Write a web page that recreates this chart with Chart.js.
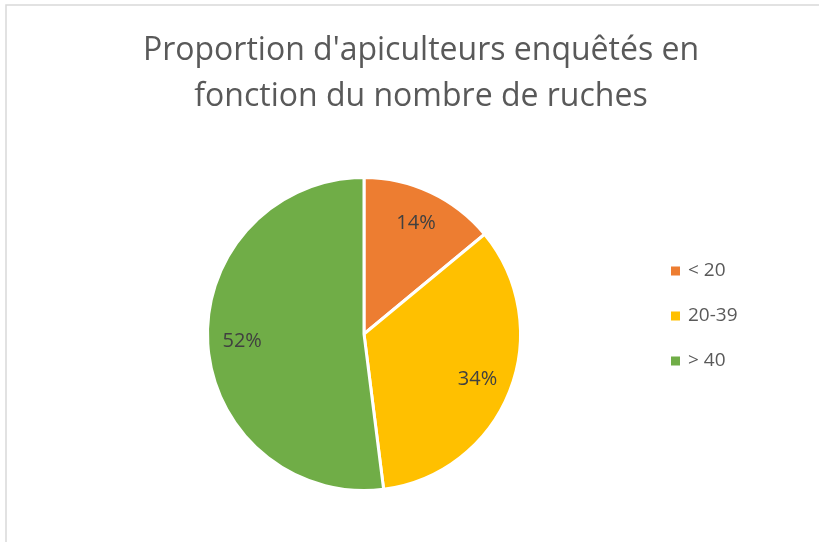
<!DOCTYPE html>
<html>
<head>
<meta charset="utf-8">
<script src="https://cdn.jsdelivr.net/npm/chart.js@4.4.0/dist/chart.umd.min.js"></script>
<style>
  html, body { margin: 0; padding: 0; background: #fff; }
</style>
</head>
<body>
<canvas id="pieChart" width="819" height="542"></canvas>
<script>
const titleLines = ["Proportion d'apiculteurs enquêtés en", 'fonction du nombre de ruches'];
const categories = ['< 20', '20-39', '> 40'];
const shares = [14, 34, 52];
const sliceColors = ['#ED7D31', '#FFC000', '#70AD47'];

const FONT = '"Open Sans", "Noto Sans", sans-serif';

// titre, cadre, légende et étiquettes dessinés à la main (style Excel)
const excelLook = {
    id: 'excelLook',
    beforeDraw(chart) {
        const ctx = chart.ctx;
        ctx.save();
        ctx.fillStyle = '#fff';
        ctx.fillRect(0, 0, chart.width, chart.height);
        ctx.strokeStyle = '#d9d9d9';
        ctx.lineWidth = 1.5;
        ctx.strokeRect(6, 5, 900, 700);

        ctx.fillStyle = '#595959';
        ctx.font = '32px ' + FONT;
        ctx.textAlign = 'center';
        ctx.textBaseline = 'middle';
        titleLines.forEach((line, i) => ctx.fillText(line, 421, 51 + i * 46));
        ctx.restore();
    },
    afterDatasetsDraw(chart) {
        const ctx = chart.ctx;
        const meta = chart.getDatasetMeta(0);
        ctx.save();
        ctx.fillStyle = '#404040';
        ctx.font = '20px ' + FONT;
        ctx.textAlign = 'center';
        ctx.textBaseline = 'middle';
        meta.data.forEach((arc, i) => {
            const p = arc.getProps(['x', 'y', 'startAngle', 'endAngle', 'outerRadius'], true);
            const mid = (p.startAngle + p.endAngle) / 2;
            const r = p.outerRadius * 0.78;
            ctx.fillText(shares[i] + '%', p.x + Math.cos(mid) * r, p.y + Math.sin(mid) * r);
        });
        ctx.restore();
    },
    afterDraw(chart) {
        const ctx = chart.ctx;
        ctx.save();
        ctx.font = '19px ' + FONT;
        ctx.textBaseline = 'middle';
        categories.forEach((cat, i) => {
            const y = 271 + i * 45;
            ctx.fillStyle = sliceColors[i];
            ctx.fillRect(671, y - 4.5, 9, 9);
            ctx.fillStyle = '#595959';
            ctx.fillText(cat, 688, y);
        });
        ctx.restore();
    }
};

new Chart(document.getElementById('pieChart'), {
    type: 'pie',
    data: {
        labels: categories,
        datasets: [{
            data: shares,
            backgroundColor: sliceColors,
            borderColor: '#ffffff',
            borderWidth: 3
        }]
    },
    options: {
        responsive: false,
        animation: false,
        layout: {
            padding: { top: 176, bottom: 50, left: 198, right: 289 }
        },
        plugins: {
            legend: { display: false },
            title: { display: false },
            tooltip: { enabled: false }
        }
    },
    plugins: [excelLook]
});
</script>
</body>
</html>
